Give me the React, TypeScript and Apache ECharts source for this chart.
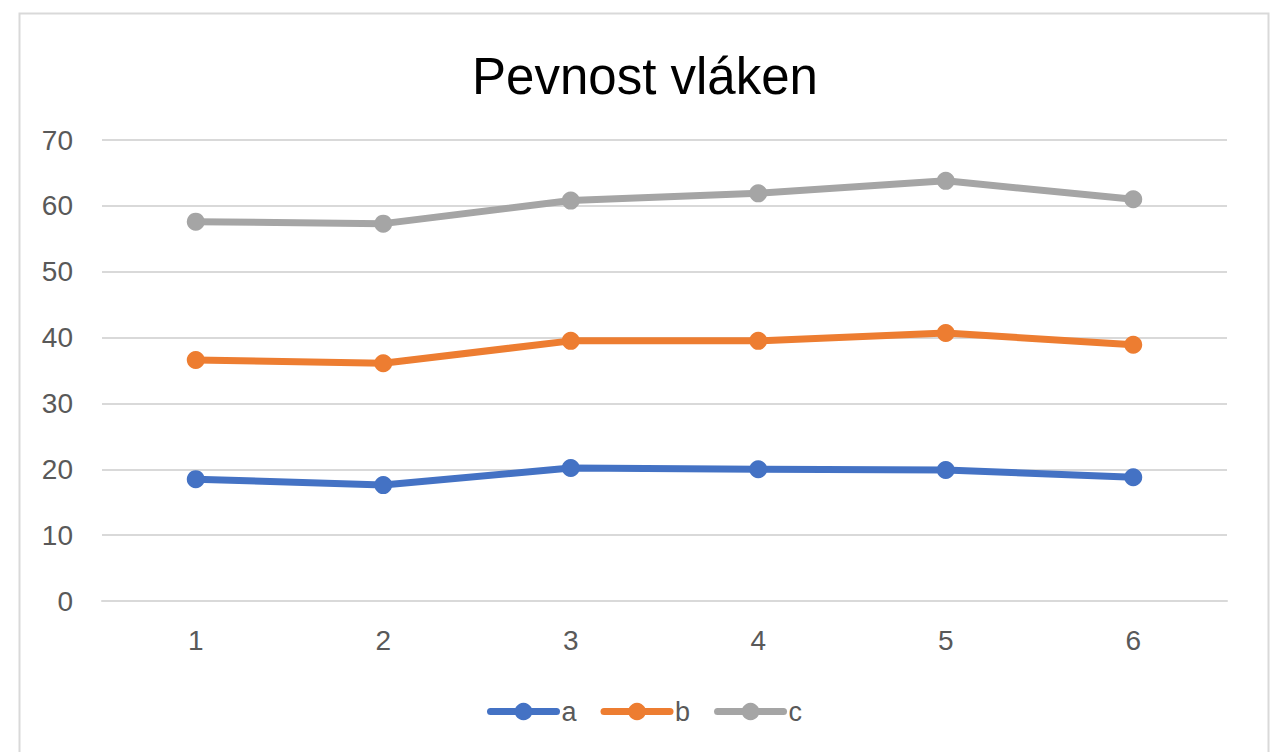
import React, { useEffect, useRef } from "react";
import * as echarts from "echarts";

const titleText = "Pevnost vláken";
const categories = ["1", "2", "3", "4", "5", "6"];
const seriesNames = ["a", "b", "c"];
const seriesA = [18.5, 17.6, 20.2, 20.0, 19.9, 18.8];
const seriesB = [36.6, 36.1, 39.5, 39.5, 40.7, 38.9];
const seriesC = [57.6, 57.3, 60.8, 61.9, 63.8, 61.0];
const colors = ["#4472C4", "#ED7D31", "#A5A5A5"];

export default function App() {
  const ref = useRef<HTMLDivElement>(null);
  useEffect(() => {
    if (!ref.current) return;
    const chart = echarts.init(ref.current, undefined, { renderer: "svg" });
    const font = "'Liberation Sans', Arial, Helvetica, sans-serif";
    const data = [seriesA, seriesB, seriesC];
    chart.setOption({
      animation: false,
      backgroundColor: "#ffffff",
      color: colors,
      textStyle: { fontFamily: font },
      graphic: [
        {
          type: "rect",
          left: 17,
          top: 11,
          shape: { width: 1249, height: 770 },
          style: { fill: "none", stroke: "#d9d9d9", lineWidth: 2 },
          silent: true,
        },
      ],
      title: {
        text: titleText,
        left: 640,
        textAlign: "center",
        top: 46,
        textStyle: { fontFamily: font, fontSize: 51, fontWeight: "normal", color: "#000000" },
      },
      grid: { left: 102, right: 44, top: 140, bottom: 151, containLabel: false },
      legend: {
        data: seriesNames,
        left: 482,
        top: 693,
        itemWidth: 66,
        itemHeight: 22,
        itemGap: 24,
        textStyle: { fontFamily: font, fontSize: 27, color: "#595959" },
        lineStyle: { width: 7, cap: "round" },
      },
      xAxis: {
        type: "category",
        data: categories,
        boundaryGap: true,
        axisLine: { show: true, lineStyle: { color: "#d9d9d9", width: 2 } },
        axisTick: { show: false },
        axisLabel: { color: "#595959", fontSize: 28, margin: 25, fontFamily: font },
      },
      yAxis: {
        type: "value",
        min: 0,
        max: 70,
        interval: 10,
        axisLine: { show: false },
        axisTick: { show: false },
        axisLabel: { color: "#595959", fontSize: 28, margin: 29, fontFamily: font },
        splitLine: { lineStyle: { color: "#d9d9d9", width: 2 } },
      },
      series: seriesNames.map((name, i) => ({
        name,
        type: "line",
        data: data[i],
        symbol: "circle",
        symbolSize: 18,
        lineStyle: { width: 7, color: colors[i], cap: "round", join: "round" },
        itemStyle: { color: colors[i] },
      })),
    });
    return () => chart.dispose();
  }, []);
  return (
    <div
      ref={ref}
      style={{ position: "absolute", left: 0, top: 0, width: 1271, height: 752 }}
    />
  );
}
